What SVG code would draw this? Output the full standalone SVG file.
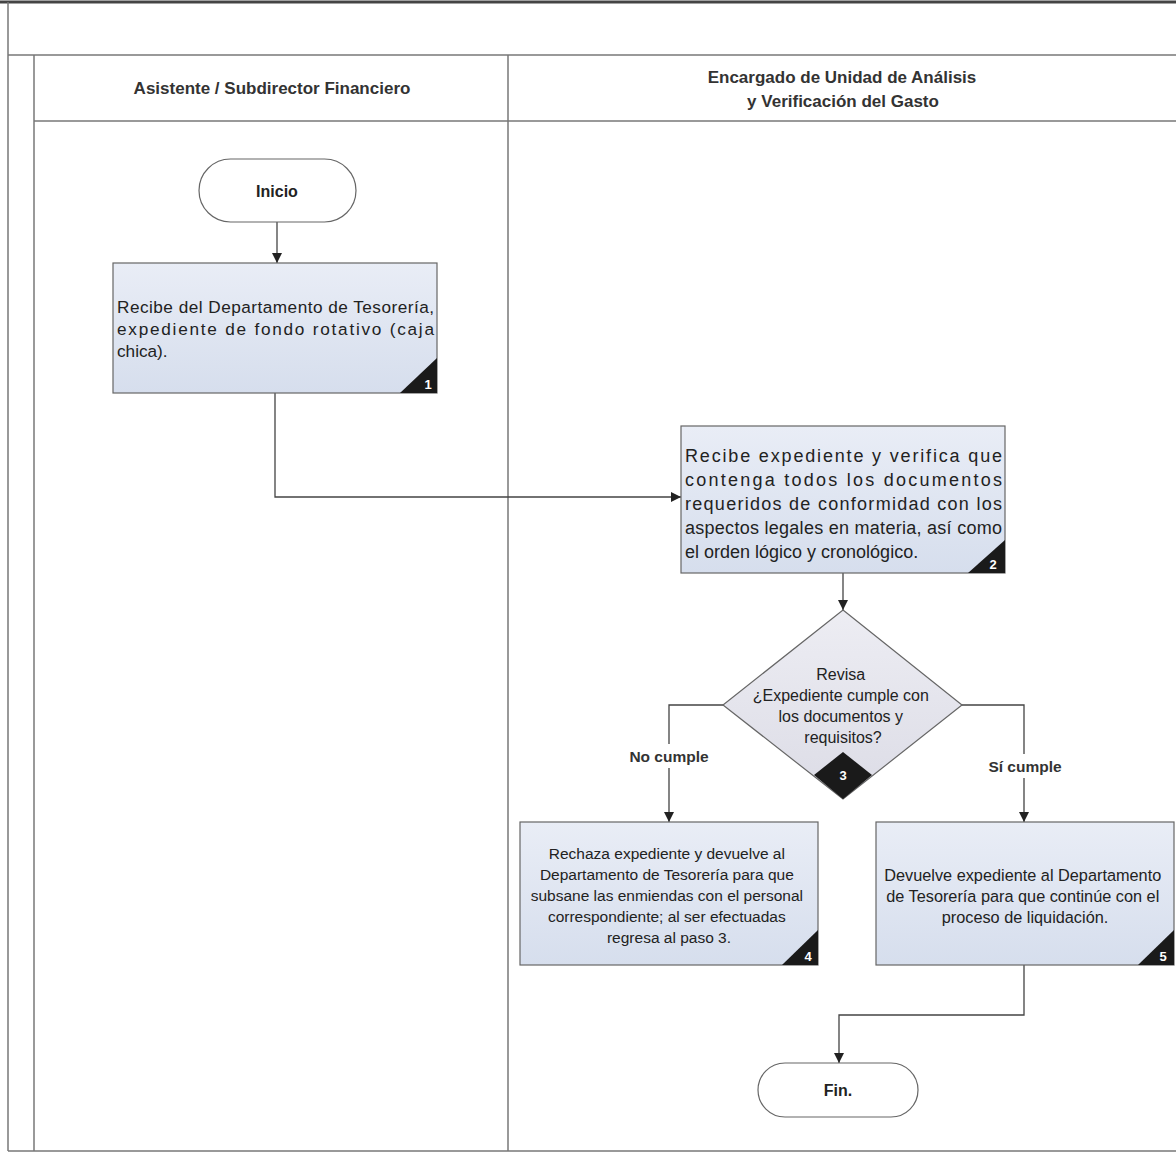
<svg xmlns="http://www.w3.org/2000/svg" width="1176" height="1153" viewBox="0 0 1176 1153">
<defs>
<linearGradient id="boxfill" x1="0" y1="0" x2="0" y2="1">
<stop offset="0" stop-color="#e9edf6"/>
<stop offset="1" stop-color="#d6deed"/>
</linearGradient>
<linearGradient id="dfill" x1="0" y1="0" x2="0" y2="1">
<stop offset="0" stop-color="#ededf3"/>
<stop offset="1" stop-color="#dcdce6"/>
</linearGradient>
<marker id="arr" viewBox="0 0 10 10" refX="10" refY="5" markerWidth="10" markerHeight="10" markerUnits="userSpaceOnUse" orient="auto">
<path d="M0,0 L10,5 L0,10 Z" fill="#222"/>
</marker>
</defs>
<style>
.frame{stroke:#777;stroke-width:1.5;fill:none}
.box{fill:url(#boxfill);stroke:#666;stroke-width:1.2}
.term{fill:#fff;stroke:#666;stroke-width:1.2}
.conn{fill:none;stroke:#444;stroke-width:1.3}
.t{font-family:"Liberation Sans",Arial,sans-serif;fill:#222}
.hd{font-family:"Liberation Sans",Arial,sans-serif;font-weight:bold;font-size:17px;fill:#333;text-anchor:middle}
.num{font-family:"Liberation Sans",Arial,sans-serif;font-weight:bold;font-size:13px;fill:#fff;text-anchor:middle}
.lab{font-family:"Liberation Sans",Arial,sans-serif;font-weight:bold;font-size:15.5px;fill:#333;text-anchor:middle}
</style>
<rect width="1176" height="1153" fill="#fff"/>
<g id="frame">
<line x1="0" y1="2" x2="1176" y2="2" stroke="#444" stroke-width="3"/>
<line class="frame" x1="8" y1="2" x2="8" y2="1151"/>
<line class="frame" x1="8" y1="55" x2="1176" y2="55"/>
<line class="frame" x1="34" y1="55" x2="34" y2="1151"/>
<line class="frame" x1="34" y1="121" x2="1176" y2="121"/>
<line class="frame" x1="508" y1="55" x2="508" y2="1151"/>
<line class="frame" x1="8" y1="1151" x2="1176" y2="1151"/>
<text class="hd" x="272" y="94">Asistente / Subdirector  Financiero</text>
<text class="hd" x="842" y="83">Encargado de Unidad de Análisis</text>
<text class="hd" x="843" y="107">y Verificación del Gasto</text>
</g>
<g id="connectors">
<line class="conn" x1="277" y1="222" x2="277" y2="263" marker-end="url(#arr)"/>
<polyline class="conn" points="275,393 275,497 681,497" marker-end="url(#arr)"/>
<line class="conn" x1="843" y1="573" x2="843" y2="610" marker-end="url(#arr)"/>
<polyline class="conn" points="723,705 669,705 669,822" marker-end="url(#arr)"/>
<polyline class="conn" points="962,705 1024,705 1024,822" marker-end="url(#arr)"/>
<polyline class="conn" points="1024,965 1024,1015 839,1015 839,1063" marker-end="url(#arr)"/>
<rect x="626" y="744" width="88" height="24" fill="#fff"/>
<rect x="984" y="754" width="84" height="24" fill="#fff"/>
<text class="lab" x="669" y="762">No cumple</text>
<text class="lab" x="1025" y="772">Sí cumple</text>
</g>
<g id="n-inicio">
<rect class="term" x="199" y="159" width="157" height="63" rx="31.5"/>
<text class="t" x="277" y="197" font-size="16" font-weight="bold" text-anchor="middle">Inicio</text>
</g>
<g id="n1">
<rect class="box" x="113" y="263" width="324" height="130"/>
<path d="M400,393 L437,393 L437,358 Z" fill="#1a1a1a"/>
<text class="num" x="428" y="389">1</text>
<text class="t" font-size="17.2">
<tspan x="117" y="313" textLength="317" lengthAdjust="spacing">Recibe del Departamento de Tesorería,</tspan>
<tspan x="117" y="335" textLength="317" lengthAdjust="spacing">expediente de fondo rotativo (caja</tspan>
<tspan x="117" y="357">chica).</tspan>
</text>
</g>
<g id="n2">
<rect class="box" x="681" y="426" width="324" height="147"/>
<path d="M968,573 L1005,573 L1005,540 Z" fill="#1a1a1a"/>
<text class="num" x="993" y="569">2</text>
<text class="t" font-size="18">
<tspan x="685" y="462" textLength="317" lengthAdjust="spacing">Recibe expediente y verifica que</tspan>
<tspan x="685" y="486" textLength="317" lengthAdjust="spacing">contenga todos los documentos</tspan>
<tspan x="685" y="510" textLength="317" lengthAdjust="spacing">requeridos de conformidad con los</tspan>
<tspan x="685" y="534" textLength="317" lengthAdjust="spacing">aspectos legales en materia, así como</tspan>
<tspan x="685" y="558">el orden lógico y cronológico.</tspan>
</text>
</g>
<g id="n3">
<polygon points="843,610 962,705 843,799 723,705" fill="url(#dfill)" stroke="#666" stroke-width="1.2"/>
<polygon points="843,752 872,775 843,799 814,775" fill="#1a1a1a"/>
<text class="num" x="843" y="780">3</text>
<text class="t" font-size="16" text-anchor="middle">
<tspan x="843" y="680">Revisa</tspan>
<tspan x="843" y="701">¿Expediente cumple con</tspan>
<tspan x="843" y="722">los documentos y</tspan>
<tspan x="843" y="743">requisitos?</tspan>
</text>
</g>
<g id="n4">
<rect class="box" x="520" y="822" width="298" height="143"/>
<path d="M782,965 L818,965 L818,930 Z" fill="#1a1a1a"/>
<text class="num" x="808" y="961">4</text>
<text class="t" font-size="15.5" text-anchor="middle">
<tspan x="669" y="859">Rechaza expediente y devuelve al</tspan>
<tspan x="669" y="880">Departamento de Tesorería para que</tspan>
<tspan x="669" y="901">subsane las enmiendas con el personal</tspan>
<tspan x="669" y="922">correspondiente; al ser efectuadas</tspan>
<tspan x="669" y="943">regresa al paso 3.</tspan>
</text>
</g>
<g id="n5">
<rect class="box" x="876" y="822" width="298" height="143"/>
<path d="M1138,965 L1174,965 L1174,930 Z" fill="#1a1a1a"/>
<text class="num" x="1163" y="961">5</text>
<text class="t" font-size="16.3" text-anchor="middle">
<tspan x="1025" y="881">Devuelve expediente al Departamento</tspan>
<tspan x="1025" y="902">de Tesorería para que continúe con el</tspan>
<tspan x="1025" y="923">proceso de liquidación.</tspan>
</text>
</g>
<g id="n-fin">
<rect class="term" x="758" y="1063" width="160" height="54" rx="27"/>
<text class="t" x="838" y="1096" font-size="16" font-weight="bold" text-anchor="middle">Fin.</text>
</g>
</svg>
